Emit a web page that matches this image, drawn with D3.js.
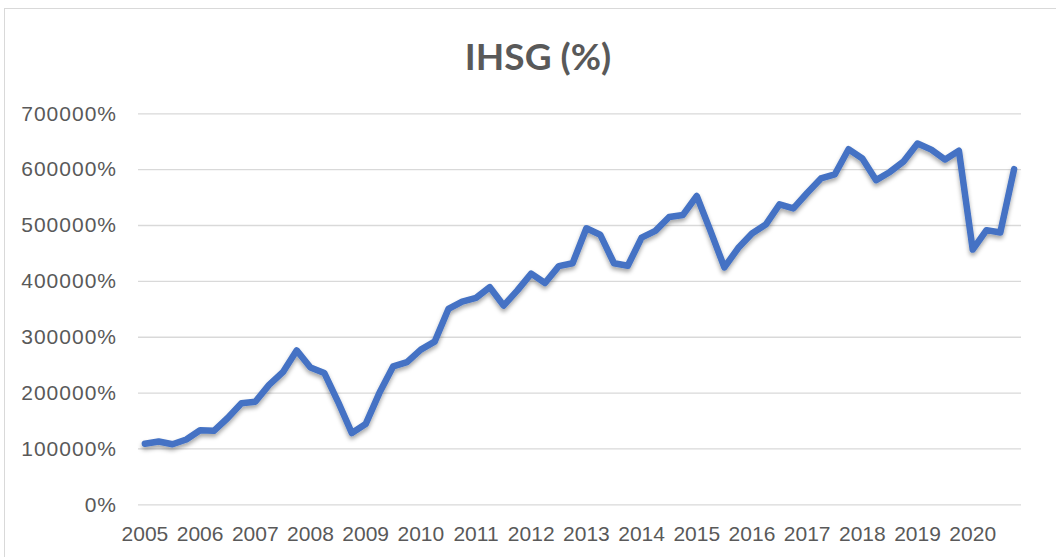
<!DOCTYPE html>
<html lang="en">
<head>
  <meta charset="UTF-8">
  <title>IHSG (%)</title>
  <script src="https://d3js.org/d3.v7.min.js"></script>
  <style>
    body { margin: 0; background: #fff; }
    svg { font-family: Lato, "Open Sans", sans-serif; }
    .tick text { fill: #595959; font-size: 21px; }
    .y-axis .tick text { letter-spacing: 1px; }
  </style>
</head>
<body>
  <svg width="1056" height="557"></svg>
  <script>
    const years = ["2005", "2006", "2007", "2008", "2009", "2010", "2011", "2012",
                   "2013", "2014", "2015", "2016", "2017", "2018", "2019", "2020"];
    const quarters = ["Q1", "Q2", "Q3", "Q4"];

    // quarterly index close (shown as value * 100 %)
    const ihsg = [
      1085, 1125, 1075, 1160,
      1325, 1315, 1545, 1810,
      1835, 2138, 2365, 2755,
      2450, 2352, 1835, 1275,
      1436, 1995, 2470, 2545,
      2770, 2912, 3497, 3630,
      3695, 3887, 3558, 3830,
      4130, 3962, 4264, 4315,
      4941, 4827, 4315, 4270,
      4775, 4895, 5145, 5180,
      5519, 4890, 4240, 4588,
      4848, 5008, 5370, 5298,
      5573, 5833, 5905, 6356,
      6192, 5803, 5950, 6140,
      6460, 6350, 6172, 6330,
      4560, 4908, 4866, 6000
    ];
    const yTicks = [0, 1000, 2000, 3000, 4000, 5000, 6000, 7000];

    const categories = years.flatMap(y => quarters.map(q => `${y} ${q}`));
    const data = categories.map((c, i) => ({ cat: c, value: ihsg[i] }));

    const svg = d3.select("svg");

    // outer chart border
    svg.append("rect")
      .attr("x", 4.5).attr("y", 8.5)
      .attr("width", 1070).attr("height", 570)
      .attr("fill", "#fff")
      .attr("stroke", "#d9d9d9");

    const x = d3.scaleBand()
      .domain(categories)
      .range([138, 1021]);

    const y = d3.scaleLinear()
      .domain([0, 7000])
      .range([504.3, 113.3]);

    // gridlines + y labels
    const yAxis = svg.append("g")
      .attr("class", "y-axis")
      .attr("transform", "translate(138,0)")
      .call(d3.axisLeft(y)
        .tickValues(yTicks)
        .tickSize(-(1021 - 138))
        .tickPadding(21)
        .tickFormat(d => `${d * 100}%`));
    yAxis.select(".domain").remove();
    yAxis.selectAll(".tick line")
      .attr("stroke", "#d9d9d9")
      .attr("stroke-width", 1.3);

    // x labels, one per year
    const xAxis = svg.append("g")
      .attr("transform", "translate(0,504.3)")
      .call(d3.axisBottom(x)
        .tickValues(categories.filter((c, i) => i % 4 === 0))
        .tickSize(0)
        .tickPadding(22)
        .tickFormat(d => d.slice(0, 4)));
    xAxis.select(".domain").remove();

    // soft shadow like the spreadsheet line
    const defs = svg.append("defs");
    defs.append("filter")
      .attr("id", "shadow")
      .attr("x", "-5%").attr("y", "-10%")
      .attr("width", "110%").attr("height", "130%")
      .append("feDropShadow")
      .attr("dx", 0).attr("dy", 3)
      .attr("stdDeviation", 2)
      .attr("flood-color", "#000")
      .attr("flood-opacity", 0.35);

    const line = d3.line()
      .x(d => x(d.cat) + x.bandwidth() / 2)
      .y(d => y(d.value));

    svg.append("path")
      .datum(data)
      .attr("fill", "none")
      .attr("stroke", "#4472c4")
      .attr("stroke-width", 6.5)
      .attr("stroke-linejoin", "round")
      .attr("stroke-linecap", "round")
      .attr("filter", "url(#shadow)")
      .attr("d", line);

    // title
    svg.append("text")
      .attr("x", 538)
      .attr("y", 70)
      .attr("text-anchor", "middle")
      .attr("font-size", "37px")
      .attr("font-weight", "bold")
      .attr("fill", "#595959")
      .text("IHSG (%)");
  </script>
</body>
</html>
